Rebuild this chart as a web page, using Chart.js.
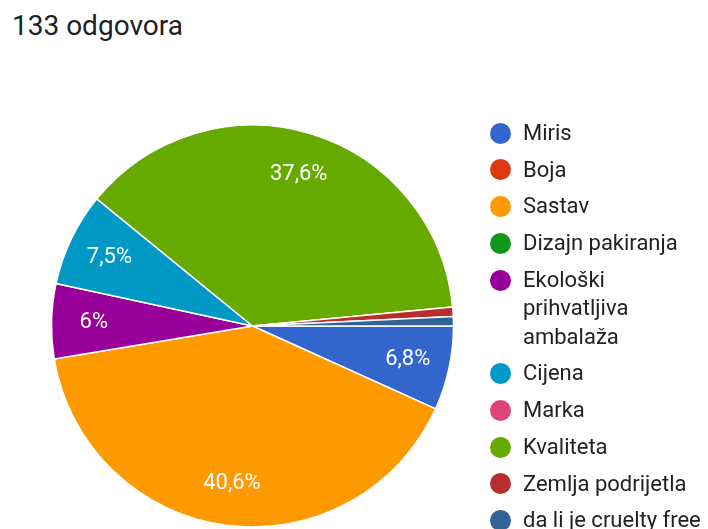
<!DOCTYPE html>
<html>
<head>
<meta charset="utf-8">
<script src="https://cdn.jsdelivr.net/npm/chart.js@4"></script>
<style>
  html, body { margin: 0; padding: 0; background: #ffffff; overflow: hidden; }
  body { width: 708px; height: 529px; position: relative; font-family: Roboto, sans-serif; }
  #naslov { position: absolute; left: 12px; top: 9px; font-size: 28px; color: #202124; }
  #grafikon { position: absolute; left: 0; top: 0; }
  #leyenda { position: absolute; left: 490px; top: 119px; width: 218px; }
  .stavka { display: flex; align-items: flex-start; margin-bottom: 8.2px; }
  .tocka { width: 21px; height: 21px; border-radius: 50%; margin-top: 3.75px; margin-right: 12px; flex: none; }
  .tekst { width: 185px; font-size: 22px; line-height: 28.5px; color: #222222; }
</style>
</head>
<body>
<div id="naslov">133 odgovora</div>
<canvas id="grafikon" width="505" height="529"></canvas>
<div id="leyenda"></div>
<script>
// odgovori po kategoriji (ukupno 133)
const kategorije = [
  'Miris', 'Boja', 'Sastav', 'Dizajn pakiranja', 'Ekološki prihvatljiva ambalaža',
  'Cijena', 'Marka', 'Kvaliteta', 'Zemlja podrijetla', 'da li je cruelty free'
];
const odgovori = [9, 0, 54, 0, 8, 10, 0, 50, 1, 1];
const boje = [
  '#3366cc', '#dc3912', '#ff9900', '#109618', '#990099',
  '#0099c6', '#dd4477', '#66aa00', '#b82e2e', '#316395'
];

const ukupno = odgovori.reduce((a, b) => a + b, 0);

// postotci unutar kriški
const oznakePostotka = {
  id: 'oznakePostotka',
  afterDatasetsDraw(chart) {
    const ctx = chart.ctx;
    const meta = chart.getDatasetMeta(0);
    ctx.save();
    ctx.font = '22px Roboto, sans-serif';
    ctx.fillStyle = '#ffffff';
    ctx.textAlign = 'center';
    ctx.textBaseline = 'middle';
    meta.data.forEach((luk, i) => {
      const udio = odgovori[i] / ukupno;
      if (udio < 0.03) return;
      const p = luk.getProps(['x', 'y', 'startAngle', 'endAngle', 'outerRadius'], true);
      const kut = (p.startAngle + p.endAngle) / 2;
      const r = p.outerRadius * 0.79;
      const tekst = (Math.round(udio * 1000) / 10).toString().replace('.', ',') + '%';
      ctx.fillText(tekst, p.x + Math.cos(kut) * r, p.y + Math.sin(kut) * r);
    });
    ctx.restore();
  }
};

new Chart(document.getElementById('grafikon'), {
  type: 'pie',
  data: {
    labels: kategorije,
    datasets: [{
      data: odgovori,
      backgroundColor: boje,
      borderColor: '#ffffff',
      borderWidth: 1.5
    }]
  },
  options: {
    responsive: false,
    animation: false,
    rotation: 90,
    radius: 201,
    layout: { padding: { top: 123 } },
    plugins: {
      legend: { display: false },
      tooltip: { enabled: false }
    }
  },
  plugins: [oznakePostotka]
});

// legenda sa strane
let legendaHtml = '';
kategorije.forEach((naziv, i) => {
  legendaHtml += `
    <div class="stavka">
      <span class="tocka" style="background: ${boje[i]};"></span>
      <span class="tekst">${naziv}</span>
    </div>`;
});
document.getElementById('leyenda').innerHTML = legendaHtml;
</script>
</body>
</html>
